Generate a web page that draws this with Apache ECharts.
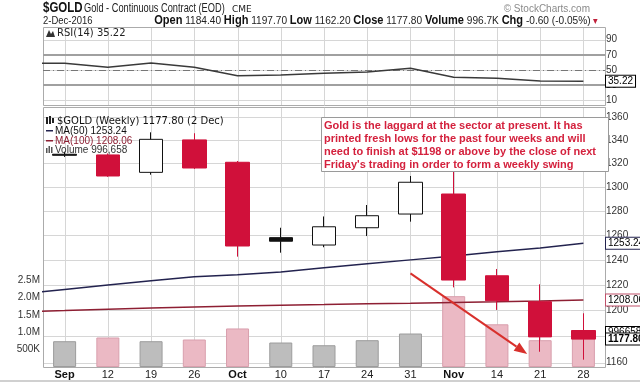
<!DOCTYPE html>
<html><head><meta charset="utf-8">
<script src="https://cdn.jsdelivr.net/npm/echarts@6/dist/echarts.min.js"></script>
<style>html,body{margin:0;padding:0;background:#fff}#c{width:640px;height:382px}</style>
</head><body><div id="c"></div>
<script>
// ---- data ----
const weeks  = ['29','Sep','12','19','26','Oct','10','17','24','31','Nov','14','21','28'];
const openP  = [null,1327.8,1327.2,1312.3,1340.2,1320.9,1257.9,1251.9,1266.0,1277.3,1294.0,1227.2,1206.7,1184.4];
const closeP = [null,1326.9,1309.2,1340.7,1316.0,1251.1,1255.0,1266.8,1275.9,1303.9,1223.8,1207.5,1179.5,1177.8];
const lowP   = [null,1325.5,1308.5,1310.3,1315.2,1242.5,1245.7,1250.1,1259.2,1271.0,1218.0,1200.3,1168.2,1162.2];
const highP  = [null,1330.0,1328.5,1346.8,1346.0,1322.0,1266.0,1275.3,1284.8,1309.2,1337.0,1232.6,1220.4,1197.7];
const volume = [null,743000,850000,743000,792000,1110000,705000,627000,772000,965000,2040000,1230000,772000,996658];
const ma50   = [1212.8,1216.3,1219.9,1223.3,1226.4,1228.0,1230.2,1233.5,1236.7,1239.9,1243.1,1246.4,1249.5,1253.24];
const ma100  = [1198.9,1199.8,1200.8,1201.8,1202.6,1203.4,1204.0,1204.5,1205.1,1205.5,1206.1,1206.6,1207.2,1208.06];
const rsi    = [58.8,58.8,53.6,59.2,53.6,42.5,43.4,45.7,47.4,52.2,40.4,39.1,35.4,35.22];
const priceTicks = [1160,1180,1200,1220,1240,1260,1280,1300,1320,1340,1360];
const volTicks   = [500000,1000000,1500000,2000000,2500000];
const rsiTicks   = [10,30,50,70,90];
const monthLabels = ['Sep','Oct','Nov'];
const arrowFrom = [9, 1229.1];
const arrowTo   = [11.7, 1166.5];
const noteText = ["Gold is the laggard at the sector at present. It has",
  "printed fresh lows for the past four weeks and will",
  "need to finish at $1198 or above by the close of next",
  "Friday's trading in order to form a weekly swing"];

// ---- styles / layout ----
const RED = '#d0103a', BLACK = '#111111';
const F = "'Liberation Sans', Arial, sans-serif";
const D = "'DejaVu Sans', Verdana, sans-serif";
const GRIDC = '#d6d6d6';
const HIDE = {color: 'rgba(0,0,0,0)', width: 0};
const G0 = {left: 43, top: 27, width: 562, height: 78};
const G1 = {left: 43, top: 107, width: 562, height: 260};

const candleData = weeks.map((w, i) => {
  if (openP[i] == null) return '-';
  const up = closeP[i] > openP[i];
  const prev = closeP[i - 1];
  const col = (prev != null && closeP[i] < prev) ? RED : BLACK;
  const fill = up ? '#ffffff' : col;
  return {value: [openP[i], closeP[i], lowP[i], highP[i]],
    itemStyle: {color: fill, color0: fill, borderColor: col, borderColor0: col, borderWidth: 1}};
});
const volData = weeks.map((w, i) => {
  if (volume[i] == null) return '-';
  const down = closeP[i - 1] != null && closeP[i] < closeP[i - 1];
  return {value: volume[i], itemStyle: {color: down ? '#ebb9c4' : '#bdbdbd',
    borderColor: down ? '#d99fad' : '#9c9c9c', borderWidth: 1}};
});
const empty = weeks.map(() => '-');

function tagLabel(txt, border, bold) {
  return {show: true, position: 'end', distance: 1, formatter: txt, color: '#000',
    fontSize: 10, fontFamily: F, fontWeight: bold ? 'bold' : 'normal',
    backgroundColor: '#fff', borderColor: border, borderWidth: 1, padding: [1, 2, 0, 2]};
}
const last = weeks.length - 1;

const xBase = (grid, showLabel) => ({
  type: 'category', gridIndex: grid, data: weeks, min: 1, boundaryGap: true,
  axisLine: {show: false}, axisTick: {show: false}, splitLine: {show: false},
  axisLabel: showLabel ? {
    show: true, interval: 0, margin: 2, fontSize: 11, fontFamily: F, color: '#222',
    formatter: v => monthLabels.includes(v) ? '{b|' + v + '}' : v,
    rich: {b: {fontWeight: 'bold', fontSize: 11, fontFamily: F, color: '#111'}}
  } : {show: false}
});

const option = {
  animation: false,
  grid: [
    Object.assign({show: false}, G0),
    Object.assign({show: false}, G1)
  ],
  xAxis: [xBase(0, false), xBase(1, true)],
  yAxis: [
    {type: 'value', gridIndex: 0, position: 'right', min: 3.9, max: 106.6,
      axisLine: {show: false}, axisTick: {show: false},
      axisLabel: {customValues: rsiTicks, margin: 1, fontSize: 10, fontFamily: F, color: '#333'},
      splitLine: {show: false}},
    {type: 'log', gridIndex: 1, position: 'right', min: 1156.7, max: 1369.1, logBase: 10,
      axisLine: {show: false}, axisTick: {show: false},
      axisLabel: {customValues: priceTicks, margin: 1, fontSize: 10, fontFamily: F, color: '#333',
        formatter: v => String(Math.round(v))},
      splitLine: {show: false}},
    {type: 'value', gridIndex: 1, position: 'left', min: 0, max: 7490000,
      axisLine: {show: false}, axisTick: {show: false},
      axisLabel: {customValues: volTicks, margin: 3, fontSize: 10, fontFamily: F, color: '#333',
        formatter: v => v < 1000000 ? (v / 1000) + 'K' : (v / 1000000).toFixed(1) + 'M'},
      splitLine: {show: false}}
  ],
  series: [
    {type: 'bar', name: 'Volume', xAxisIndex: 1, yAxisIndex: 2, data: volData, barWidth: 23, z: 2,
      markLine: {silent: true, symbol: ['none', 'none'], lineStyle: HIDE, z: 8,
        label: tagLabel('996658.0', '#000', false), data: [{yAxis: volume[last]}]}},
    {type: 'line', name: 'MA50', xAxisIndex: 1, yAxisIndex: 1, data: ma50, symbol: 'none', z: 3,
      lineStyle: {color: '#23234f', width: 1.5},
      markLine: {silent: true, symbol: ['none', 'none'], lineStyle: HIDE, z: 8,
        label: tagLabel(ma50[last].toFixed(2), '#23234f', false), data: [{yAxis: ma50[last]}]}},
    {type: 'line', name: 'MA100', xAxisIndex: 1, yAxisIndex: 1, data: ma100, symbol: 'none', z: 3,
      lineStyle: {color: '#8e1f33', width: 1.5},
      markLine: {silent: true, symbol: ['none', 'none'], lineStyle: HIDE, z: 8,
        label: tagLabel(ma100[last].toFixed(2), '#c0506a', false), data: [{yAxis: ma100[last]}]}},
    {type: 'candlestick', name: 'GOLD', xAxisIndex: 1, yAxisIndex: 1, data: candleData, barWidth: 24, z: 4,
      markLine: {silent: true, symbol: ['none', 'none'], lineStyle: HIDE, z: 9,
        label: tagLabel(closeP[last].toFixed(2), '#000', true), data: [{yAxis: closeP[last]}]}},
    {type: 'line', name: 'RSI', xAxisIndex: 0, yAxisIndex: 0, data: rsi, symbol: 'none', z: 3,
      lineStyle: {color: '#3a3a3a', width: 1.5},
      markLine: {silent: true, z: 2, symbol: ['none', 'none'], label: {show: false},
        data: [
          {yAxis: 70, lineStyle: {color: '#a0a0a0', width: 2, type: 'solid'}},
          {yAxis: 30, lineStyle: {color: '#a0a0a0', width: 2, type: 'solid'}},
          {yAxis: 50, lineStyle: {color: '#777', width: 1, type: [7, 3, 1, 3]}}
        ]}},
    {type: 'line', name: 'RSItag', xAxisIndex: 0, yAxisIndex: 0, data: empty, symbol: 'none', lineStyle: HIDE,
      markLine: {silent: true, z: 8, symbol: ['none', 'none'], lineStyle: HIDE,
        label: tagLabel(rsi[last].toFixed(2), '#000', false), data: [{yAxis: rsi[last]}]}}
  ]
};

const frame = g => ({type: 'rect', z: 1, silent: true,
  shape: {x: g.left + 0.5, y: g.top + 0.5, width: g.width, height: g.height},
  style: {fill: null, stroke: '#ababab', lineWidth: 1}});

const baseGraphic = [
  frame(G0), frame(G1),
  // header
  {type: 'text', x: 43, y: 8, scaleX: 0.82, style: {text: '$GOLD', font: "bold 14px " + F, fill: '#111', verticalAlign: 'middle'}},
  {type: 'text', x: 84, y: 9, scaleX: 0.77, style: {text: 'Gold - Continuous Contract (EOD)', font: "12px " + F, fill: '#222', verticalAlign: 'middle'}},
  {type: 'text', x: 232, y: 9.5, style: {text: 'CME', font: "9px " + D, fill: '#222', verticalAlign: 'middle'}},
  {type: 'text', x: 590, y: 9, style: {text: '© StockCharts.com', font: "10px " + F, fill: '#8a8a8a', align: 'right', verticalAlign: 'middle'}},
  {type: 'text', x: 43, y: 21, scaleX: 0.86, style: {text: '2-Dec-2016', font: "11px " + F, fill: '#222', verticalAlign: 'middle'}},
  {type: 'text', x: 598, y: 21, scaleX: 0.92, style: {
    text: '{b|Open} 1184.40 {b|High} 1197.70 {b|Low} 1162.20 {b|Close} 1177.80 {b|Volume} 996.7K {b|Chg} -0.60 (-0.05%) {r|▾}',
    font: "11px " + F, fill: '#222', align: 'right', verticalAlign: 'middle',
    rich: {b: {font: "bold 12px " + F, fill: '#111'}, r: {font: "10px " + F, fill: '#c0203a'}}}},
  // RSI legend
  {type: 'polygon', z: 20, shape: {points: [[46, 37], [49, 30], [51, 34], [53, 31], [55, 37]]}, style: {fill: '#333'}},
  {type: 'text', z: 20, x: 57, y: 33, style: {text: 'RSI(14) 35.22', font: "10px " + D, fill: '#222', verticalAlign: 'middle'}},
  // main legend
  {type: 'rect', z: 20, shape: {x: 46, y: 117, width: 2, height: 7}, style: {fill: '#222'}},
  {type: 'rect', z: 20, shape: {x: 49, y: 116, width: 2, height: 8}, style: {fill: '#222'}},
  {type: 'rect', z: 20, shape: {x: 52, y: 118, width: 2, height: 5}, style: {fill: '#222'}},
  {type: 'text', z: 20, x: 57, y: 121, style: {text: '$GOLD (Weekly) 1177.80 (2 Dec)', font: "10px " + D, fill: '#111', verticalAlign: 'middle'}},
  {type: 'rect', z: 20, shape: {x: 46, y: 130, width: 7, height: 1.5}, style: {fill: '#23234f'}},
  {type: 'text', z: 20, x: 55, y: 131, style: {text: 'MA(50) 1253.24', font: "10px " + F, fill: '#111', verticalAlign: 'middle'}},
  {type: 'rect', z: 20, shape: {x: 46, y: 140, width: 7, height: 1.5}, style: {fill: '#8e1f33'}},
  {type: 'text', z: 20, x: 55, y: 141, style: {text: 'MA(100) 1208.06', font: "10px " + F, fill: '#8e1f33', verticalAlign: 'middle'}},
  {type: 'rect', z: 20, shape: {x: 46, y: 148, width: 1.5, height: 5}, style: {fill: '#555'}},
  {type: 'rect', z: 20, shape: {x: 48.5, y: 146, width: 1.5, height: 7}, style: {fill: '#555'}},
  {type: 'rect', z: 20, shape: {x: 51, y: 147, width: 1.5, height: 6}, style: {fill: '#555'}},
  {type: 'text', z: 20, x: 55, y: 150, style: {text: 'Volume 996,658', font: "10px " + F, fill: '#333', verticalAlign: 'middle'}},
  // annotation box
  {type: 'rect', z: 100, shape: {x: 321.5, y: 117.5, width: 287, height: 54}, style: {fill: '#fff', stroke: '#9a9a9a', lineWidth: 1}},
  {type: 'text', z: 101, x: 324, y: 119.5, style: {text: noteText.join('\n'), font: "bold 11px " + F, fill: '#d4213d', lineHeight: 13}},
  {type: 'rect', z: 100, shape: {x: 0, y: 380, width: 640, height: 2}, style: {fill: '#d0d0d0'}}
];
option.graphic = baseGraphic;

const chart = echarts.init(document.getElementById('c'), null, {renderer: 'canvas'});
chart.setOption(option);

// gridlines through the chart's own scales (drawn as thin rects, behind the marks)
const px = (finder, v) => chart.convertToPixel(finder, v);
const hl = (y, g) => ({type: 'rect', z: 0, silent: true, shape: {x: g.left, y: Math.round(y), width: g.width, height: 1}, style: {fill: GRIDC}});
const vl = (x, g) => ({type: 'rect', z: 0, silent: true, shape: {x: Math.round(x), y: g.top, width: 1, height: g.height}, style: {fill: GRIDC}});
const extra = [];
priceTicks.forEach(v => extra.push(hl(px({yAxisIndex: 1}, v), G1)));
rsiTicks.forEach(v => extra.push(hl(px({yAxisIndex: 0}, v), G0)));
weeks.forEach((w, i) => {
  if (i === 0) return;
  const x = px({xAxisIndex: 1}, i);
  extra.push(vl(x, G0));
  extra.push(vl(x, G1));
});

// red arrow annotation
const toPx = (idx, price) => {
  const i0 = Math.floor(idx), f = idx - i0;
  const a = chart.convertToPixel({xAxisIndex: 1, yAxisIndex: 1}, [i0, price]);
  if (f === 0) return a;
  const b = chart.convertToPixel({xAxisIndex: 1, yAxisIndex: 1}, [i0 + 1, price]);
  return [a[0] + f * (b[0] - a[0]), a[1]];
};
const s = toPx(arrowFrom[0], arrowFrom[1]);
const e = toPx(arrowTo[0], arrowTo[1]);
const ang = Math.atan2(e[1] - s[1], e[0] - s[0]);
const L = 13, W = 5;
const bx = e[0] - L * Math.cos(ang), by = e[1] - L * Math.sin(ang);
const head = [[e[0], e[1]], [bx - W * Math.sin(ang), by + W * Math.cos(ang)], [bx + W * Math.sin(ang), by - W * Math.cos(ang)]];
extra.push({type: 'line', z: 50, shape: {x1: s[0], y1: s[1], x2: bx, y2: by}, style: {stroke: '#d8302c', lineWidth: 2}});
extra.push({type: 'polygon', z: 50, shape: {points: head}, style: {fill: '#d8302c'}});
chart.setOption({graphic: baseGraphic.concat(extra)});
</script>
</body></html>
